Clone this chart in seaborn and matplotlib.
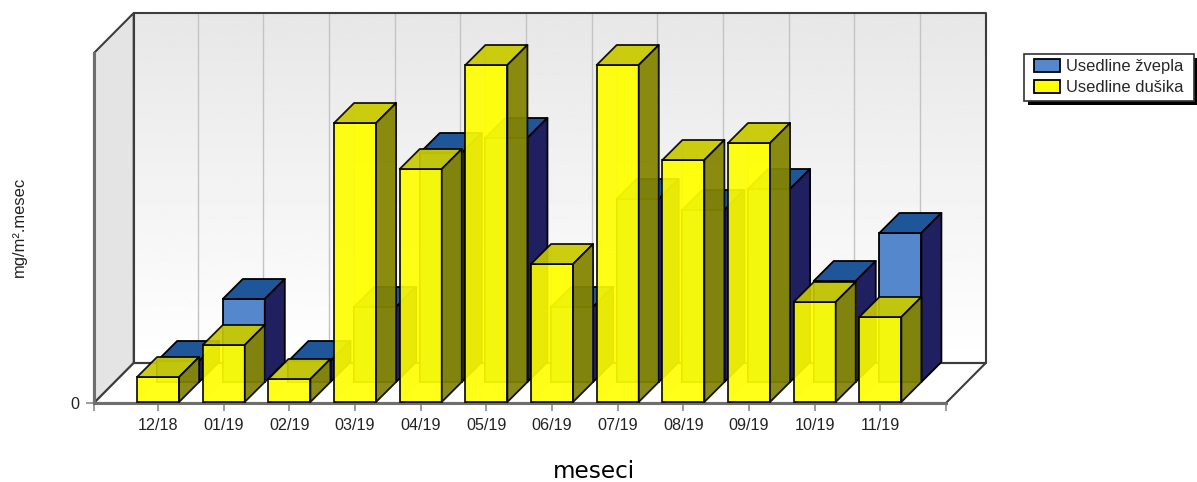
# 3D looking monthly deposition bars (fake depth drawn on top of seaborn bars)
import numpy as np
import pandas as pd
import seaborn as sns
import matplotlib.pyplot as plt
from matplotlib.patches import Polygon, Rectangle
from matplotlib.patheffects import SimplePatchShadow, Normal

# values (only the 0 tick is labelled, so the scale is relative)
meseci = ["12/18", "01/19", "02/19", "03/19", "04/19", "05/19",
          "06/19", "07/19", "08/19", "09/19", "10/19", "11/19"]
zveplo = [21, 83, 21, 75, 229, 244, 75, 183, 172, 193, 101, 149]
dusik = [25, 57, 23, 279, 233, 337, 138, 337, 242, 259, 100, 85]

W, H = 1197, 482
XLIM = (-0.976, 12.0)
YMAX = 350
BASE = 1                       # bars stand just above the axis line
BAR_DX, BAR_DY = 0.305, 20     # depth of one bar
WALL_DX, WALL_DY = 0.605, 40   # depth of the whole chart

sns.set_theme(style="white")
plt.rcParams["font.family"] = ["Liberation Sans", "DejaVu Sans"]

df = pd.DataFrame({
    "mesec": meseci * 2,
    "vrednost": zveplo + dusik,
    "serija": ["Usedline žvepla"] * 12 + ["Usedline dušika"] * 12,
})

fig = plt.figure(figsize=(W / 100, H / 100), dpi=100)
ax = fig.add_axes([94 / W, 1 - 403 / H, 852 / W, YMAX / H])


def face(points, color, alpha=1.0, z=3, edge="black", lw=1.3):
    ax.add_patch(Polygon(points, closed=True, facecolor=color, edgecolor=edge,
                         linewidth=lw, alpha=alpha, zorder=z, clip_on=False,
                         joinstyle="round"))


sns.barplot(data=df, x="mesec", y="vrednost", hue="serija", dodge=False, width=0.64,
            palette=["#5587cc", "#ffff00"], saturation=1, edgecolor="black", linewidth=1.3,
            legend=True, ax=ax)

# walls and floor
x0, x1 = XLIM
ramp = np.linspace(0.905, 1.0, 256).reshape(-1, 1)
ax.imshow(ramp, cmap="gray", vmin=0, vmax=1, aspect="auto", zorder=0.5, clip_on=False,
          extent=[x0 + WALL_DX, x1 + WALL_DX, WALL_DY, YMAX + WALL_DY], origin="upper")
wall = "#3c3c3c"
face([(x0, 0), (x0 + WALL_DX, WALL_DY), (x0 + WALL_DX, YMAX + WALL_DY), (x0, YMAX)],
     "#e4e4e4", z=0.6, edge=wall, lw=1.5)
face([(x0, 0), (x1, 0), (x1 + WALL_DX, WALL_DY), (x0 + WALL_DX, WALL_DY)],
     "white", z=0.6, edge=wall, lw=1.5)
ax.vlines(np.arange(12) + WALL_DX, WALL_DY, YMAX + WALL_DY, color="#c4c4c4", lw=1.0,
          zorder=0.7, clip_on=False)
ax.plot([x0 + WALL_DX, x1 + WALL_DX, x1 + WALL_DX, x0 + WALL_DX, x0 + WALL_DX],
        [WALL_DY, WALL_DY, YMAX + WALL_DY, YMAX + WALL_DY, WALL_DY],
        color=wall, lw=1.5, zorder=0.8, clip_on=False)

# blue bars sit one bar depth behind the yellow ones
for bar in ax.containers[0]:
    l, w, v = bar.get_x() + BAR_DX, bar.get_width(), bar.get_height()
    b = BASE + BAR_DY
    bar.set_x(l)
    bar.set_y(b)
    bar.set_zorder(2)
    bar.set_clip_on(False)
    r, t = l + w, b + v
    face([(l, t), (r, t), (r + BAR_DX, t + BAR_DY), (l + BAR_DX, t + BAR_DY)], "#1f5699", z=2)
    face([(r, b), (r + BAR_DX, b + BAR_DY), (r + BAR_DX, t + BAR_DY), (r, t)], "#202060", z=2)

# yellow bars are see-through
for bar in ax.containers[1]:
    l, w, v = bar.get_x(), bar.get_width(), bar.get_height()
    bar.set_y(BASE)
    bar.set_zorder(4)
    bar.set_alpha(0.9)
    bar.set_clip_on(False)
    r, b, t = l + w, BASE, BASE + v
    # hidden left face still tints what is behind it
    face([(l, b), (l + BAR_DX, b + BAR_DY), (l + BAR_DX, t + BAR_DY), (l, t)],
         "#8a8a00", alpha=0.1, z=3, edge="none", lw=0)
    face([(l + BAR_DX, b + BAR_DY), (l + BAR_DX, t + BAR_DY), (r + BAR_DX, t + BAR_DY), (r + BAR_DX, b + BAR_DY)],
         "#ffff00", alpha=0.35, z=3, edge="#8a8a00", lw=0.6)
    face([(l, t), (r, t), (r + BAR_DX, t + BAR_DY), (l + BAR_DX, t + BAR_DY)],
         "#c8c800", alpha=0.9, z=4)
    face([(r, b), (r + BAR_DX, b + BAR_DY), (r + BAR_DX, t + BAR_DY), (r, t)],
         "#7f7f00", alpha=0.9, z=4)

ax.set_xlim(x0, x1)
ax.set_ylim(0, YMAX)
ax.set_yticks([0], ["0"])
ax.set_xticks(range(12), meseci)
ax.set_xticks([x0, x1], minor=True)
ax.tick_params(axis="both", which="both", left=True, bottom=True, length=6, width=1.2,
               color="#8c8c8c", labelsize=11.6, labelcolor="#222222", pad=4.5)
for name, spine in ax.spines.items():
    spine.set_visible(name in ("left", "bottom"))
    spine.set_color("#6e6e6e")
    spine.set_linewidth(2.2)
    spine.set_zorder(1)
ax.set_facecolor("none")

ax.set_xlabel("meseci", fontsize=16.7, family="DejaVu Sans", color="black")
ax.xaxis.set_label_coords((594 - 94) / 852, (403 - 471) / YMAX, transform=ax.transAxes)
ax.xaxis.label.set_va("center")
ax.set_ylabel("mg/m².mesec", fontsize=11.9, color="#222222")
ax.yaxis.set_label_coords((19 - 94) / 852, (403 - 227) / YMAX, transform=ax.transAxes)
ax.yaxis.label.set_va("center")

# legend box is a separate patch so the padding can differ per side
ax.add_patch(Rectangle((1024 / W, 1 - 101 / H), 170 / W, 47 / H, transform=fig.transFigure,
                       facecolor="white", edgecolor="#333333", linewidth=1.2, clip_on=False,
                       zorder=9, path_effects=[SimplePatchShadow(offset=(2.9, -2.9), shadow_rgbFace="black", alpha=1), Normal()]))
handles, labels = ax.get_legend_handles_labels()
leg = ax.legend(handles, labels, loc="upper left", bbox_to_anchor=(1034 / W, 1 - 58.5 / H),
                bbox_transform=fig.transFigure, borderaxespad=0, borderpad=0, fontsize=11.9,
                frameon=False, handlelength=1.58, handleheight=0.85, handletextpad=0.36,
                labelspacing=0.36)
leg.set_zorder(10)

plt.savefig("out.png", dpi=100)
